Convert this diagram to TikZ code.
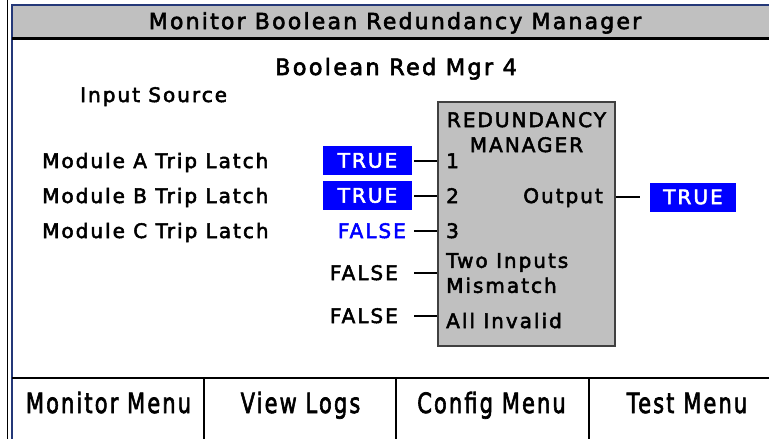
\documentclass[tikz,border=0pt]{standalone}
\usepackage{graphicx}
\usepackage{fontspec}
\setmainfont{DejaVu Sans}[LetterSpace=10,FakeBold=2.6]
\usetikzlibrary{positioning}
\definecolor{panelgray}{RGB}{192,192,192}
\definecolor{valueblue}{RGB}{0,0,255}
\definecolor{framenavy}{RGB}{36,56,120}
\newcommand{\keytext}[1]{\scalebox{1}[1.33]{#1}}

\begin{document}
\begin{tikzpicture}[
  x=1pt,
  y=-1pt,
  headtext/.style={
    inner sep=0pt,
    font=\fontsize{22}{24}\selectfont
  },
  label/.style={
    inner sep=0pt,
    text=black,
    font=\fontsize{20}{25}\selectfont
  },
  keylabel/.style={
    inner sep=0pt,
    anchor=base,
    font=\fontsize{21}{24}\selectfont
  },
  truebox/.style={
    rectangle,
    fill=valueblue,
    text=white,
    minimum width=89pt,
    minimum height=29pt,
    inner sep=0pt,
    font=\fontsize{20}{24}\selectfont
  },
  mgrbox/.style={
    rectangle,
    draw=black!75,
    line width=1.4pt,
    fill=panelgray,
    minimum width=177pt,
    minimum height=244pt
  },
  wire/.style={
    line width=2pt,
    draw=black
  },
  divider/.style={
    line width=2.5pt,
    draw=black
  }
]
\useasboundingbox (0,0) rectangle (769,439);

% Frame and title bar
\fill[panelgray] (12,5) rectangle (769,37);
\draw[line width=1.5pt] (7.5,0) -- (7.5,439);
\draw[framenavy, line width=2pt] (12,439) -- (12,4.5) -- (769,4.5);
\draw[divider, line width=3pt] (12,38.3) -- (769,38.3);
\node[headtext, anchor=base] (title) at (395,29) {Monitor Boolean Redundancy Manager};

% Heading and input names
\node[label, anchor=base, font=\fontsize{22.5}{24}\selectfont] (mgrname) at (396,75) {Boolean Red Mgr 4};
\node[label, anchor=base west] (source) at (80,102) {Input Source};
\node[label, anchor=base west] (moda) at (42,168) {Module A Trip Latch};
\node[label, anchor=base west] (modb) at (42,203) {Module B Trip Latch};
\node[label, anchor=base west] (modc) at (42,238) {Module C Trip Latch};

% Manager block
\node[mgrbox] (mgr) at (526.5,224) {};
\node[label, align=center, anchor=north] (mgrhead) at (mgr.north |- 0,112) {REDUNDANCY\\MANAGER};
\node[label, anchor=base west] (in1) at (446,168) {1};
\node[label, anchor=base west] (in2) at (446,203) {2};
\node[label, anchor=base west] (in3) at (446,238) {3};
\node[label, anchor=north west, align=left] (mismatch) at (446,253) {Two Inputs\\Mismatch};
\node[label, anchor=base west] (invalid) at (446,328) {All Invalid};
\node[label, anchor=base east] (output) at (603,203) {Output};

% Input values
\node[truebox] (val1) at (367.5,160.5) {TRUE};
\node[truebox] (val2) at (367.5,195.5) {TRUE};
\node[label, text=valueblue, anchor=base east] (val3) at (406,238) {FALSE};
\node[label, anchor=base east] (val4) at (398,280) {FALSE};
\node[label, anchor=base east] (val5) at (398,323) {FALSE};
\foreach \v in {val1,val2,val3,val4,val5}
  \draw[wire] ([xshift=-23pt]mgr.west |- \v.east) -- (mgr.west |- \v.east);

% Output value
\node[truebox, minimum width=86pt] (valout) at (693,197) {TRUE};
\draw[wire] (mgr.east |- valout.west) -- ([xshift=-10pt]valout.west);

% Soft key bar
\draw[divider] (12,378) -- (769,378);
\draw[divider, line width=2pt] (204,378) -- (204,439);
\draw[divider, line width=2pt] (396,378) -- (396,439);
\draw[divider, line width=2pt] (589,378) -- (589,439);
\node[keylabel] (keymon) at (108.5,413) {\keytext{Monitor Menu}};
\node[keylabel] (keylogs) at (300.5,413) {\keytext{View Logs}};
\node[keylabel] (keyconf) at (491.5,413) {\keytext{Config Menu}};
\node[keylabel] (keytest) at (687,413) {\keytext{Test Menu}};

\end{tikzpicture}
\end{document}
